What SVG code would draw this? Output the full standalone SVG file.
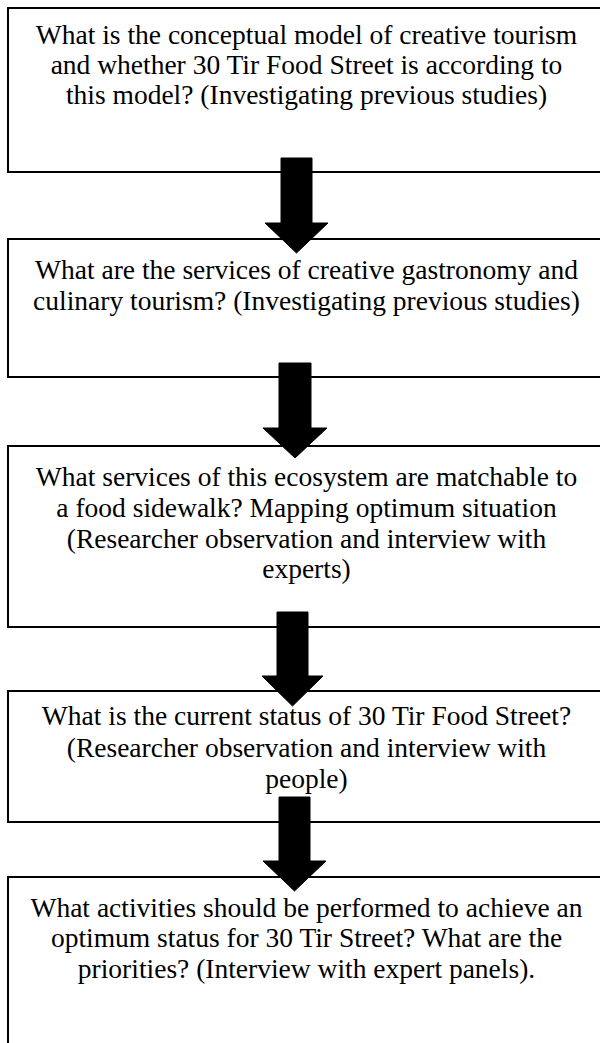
<svg xmlns="http://www.w3.org/2000/svg" width="600" height="1043" viewBox="0 0 600 1043">
<style>
.box{fill:#fff;stroke:#000;stroke-width:2}
.t{font-family:"Liberation Serif","Times New Roman",serif;font-size:27.5px;fill:#000;text-anchor:middle}
.arr{fill:#000;stroke:#000;stroke-width:1}
</style>
<rect width="600" height="1043" fill="#fff"/>
<g id="node1">
<rect class="box" x="8" y="8" width="600" height="164"/>
<text class="t" x="306.5" y="44">What is the conceptual model of creative tourism</text>
<text class="t" x="306.5" y="74">and whether 30 Tir Food Street is according to</text>
<text class="t" x="306.5" y="104">this model? (Investigating previous studies)</text>
</g>
<g id="node2">
<rect class="box" x="8" y="239" width="600" height="138"/>
<text class="t" x="306.5" y="279">What are the services of creative gastronomy and</text>
<text class="t" x="306.5" y="310">culinary tourism? (Investigating previous studies)</text>
</g>
<g id="node3">
<rect class="box" x="8" y="446" width="600" height="181"/>
<text class="t" x="306.5" y="486">What services of this ecosystem are matchable to</text>
<text class="t" x="306.5" y="517">a food sidewalk? Mapping optimum situation</text>
<text class="t" x="306.5" y="548">(Researcher observation and interview with</text>
<text class="t" x="306.5" y="578">experts)</text>
</g>
<g id="node4">
<rect class="box" x="8" y="691" width="600" height="131"/>
<text class="t" x="306.5" y="725">What is the current status of 30 Tir Food Street?</text>
<text class="t" x="306.5" y="757">(Researcher observation and interview with</text>
<text class="t" x="306.5" y="788">people)</text>
</g>
<g id="node5">
<rect class="box" x="8" y="877" width="600" height="190"/>
<text class="t" x="306.5" y="917">What activities should be performed to achieve an</text>
<text class="t" x="306.5" y="947">optimum status for 30 Tir Street? What are the</text>
<text class="t" x="306.5" y="978">priorities? (Interview with expert panels).</text>
</g>
<g id="connectors">
<polygon class="arr" points="281,158 312,158 312,223 328,223 296.5,253 265,223 281,223"/>
<polygon class="arr" points="279,363 311,363 311,428 327,428 295,458 263,428 279,428"/>
<polygon class="arr" points="277,612 308,612 308,676 323,676 292.5,706 262,676 277,676"/>
<polygon class="arr" points="279,797 310,797 310,861 326,861 294.5,891 263,861 279,861"/>
</g>
</svg>
